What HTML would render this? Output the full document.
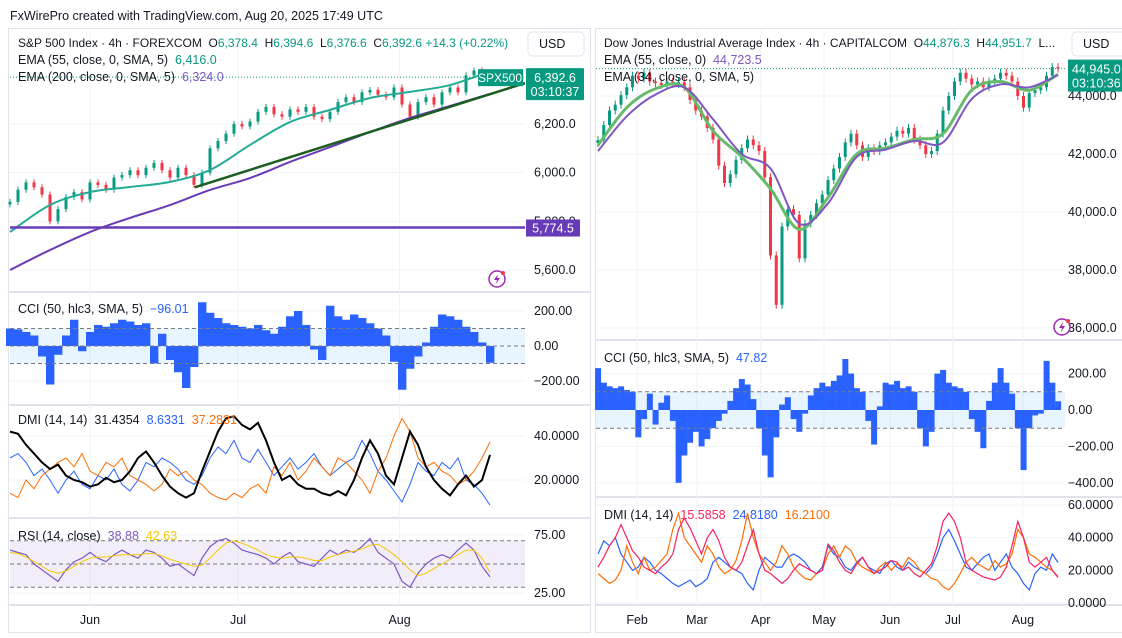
<!DOCTYPE html>
<html><head><meta charset="utf-8"><style>
body{margin:0;background:#fff;width:1122px;height:638px;overflow:hidden;font-family:"Liberation Sans",sans-serif}
svg{display:block}
text{font-family:"Liberation Sans",sans-serif;white-space:pre}
</style></head><body>
<svg id="c" width="1122" height="638" viewBox="0 0 1122 638"></svg>
<script>
// ---------- DATA: S&P 500 (left) ----------
const spxClose=[5880,5930,5960,5940,5910,5800,5850,5900,5920,5890,5960,5950,5930,5980,5990,6010,5990,6020,6040,6010,5980,6020,5990,5950,6000,6100,6130,6160,6200,6190,6210,6250,6270,6240,6230,6260,6250,6270,6230,6220,6250,6290,6310,6290,6330,6340,6320,6310,6350,6280,6230,6290,6310,6280,6330,6350,6330,6400,6420,6410,6392.6];
const spxEma55=[5756,5867,5920,5941,5962,6011,6114,6208,6258,6307,6332,6360,6416];
const spxEma200=[5600,5682,5756,5814,5867,5929,5978,6044,6105,6167,6225,6274,6324];
const spxPriceTicks=[6200,6000,5800,5600];
const spxPriceTickLabels=["6,200.0","6,000.0","5,800.0","5,600.0"];
const spxHLine=5774.5;
const spxCci=[100,95,80,60,-60,-220,-50,60,150,-30,80,120,110,130,150,140,120,130,-100,70,-80,-150,-240,-120,250,190,160,130,120,110,100,120,90,70,110,170,200,120,-20,-80,230,170,150,180,160,130,100,60,-90,-250,-130,-60,20,110,180,170,150,110,80,20,-96];
const spxCciTicks=[200,0,-200];
const spxCciTickLabels=["200.00","0.00","\u2212200.00"];
const spxAdx=[42,41,36,32,28,25,27,22,20,19,17,18,21,19,20,24,30,33,28,22,17,14,12,14,24,33,42,48,49,45,43,46,38,28,20,22,18,16,16,14,13,15,13,20,30,38,32,22,18,30,42,36,26,20,16,13,18,22,17,20,31.4];
const spxDiPlus=[30,32,28,22,25,20,14,20,24,18,16,22,20,25,18,15,20,28,26,30,28,25,20,18,22,30,35,32,38,30,28,34,28,22,26,30,25,28,32,26,22,25,28,30,38,32,24,20,15,10,18,28,24,22,28,25,30,20,18,14,8.6];
const spxDiMinus=[14,12,20,16,22,25,28,30,26,32,24,22,28,26,30,22,20,18,15,18,25,22,24,20,18,14,12,11,14,12,16,18,14,26,22,28,20,24,30,26,22,30,28,24,20,14,24,30,40,48,42,30,26,28,24,22,18,20,24,30,37.3];
const spxDmiTicks=[40,20];
const spxDmiTickLabels=["40.0000","20.0000"];
const spxRsi=[62,60,58,50,45,40,35,45,52,55,60,55,52,58,62,58,55,62,60,55,48,50,45,40,55,65,70,72,68,62,60,58,55,50,56,60,52,50,48,55,62,58,62,60,65,72,60,55,50,35,30,42,50,55,58,55,62,68,62,48,38.9];
const spxRsiMa=[60,59,56,52,48,44,42,44,48,52,55,56,56,57,58,58,58,59,59,57,54,52,50,48,49,55,62,68,70,68,65,62,58,56,55,56,56,55,53,53,56,58,60,61,63,66,67,63,58,52,45,40,42,46,50,54,58,62,62,55,42.6];
const spxRsiTicks=[75,25];
const spxRsiTickLabels=["75.00","25.00"];
const spxMonths=["Jun","Jul","Aug"];
const spxMonthIdx=[10,28.5,48.7];

// ---------- DATA: Dow Jones (right) ----------
const djiClose=[42480,43000,43500,43700,44030,44300,44700,44600,44800,44500,44450,44380,44500,44420,44480,44300,43860,43500,43300,42900,42500,41600,41000,41300,41800,42200,42500,42300,42100,41200,38500,36800,39500,40100,39900,38400,39600,39900,40300,40600,41100,41500,41900,42400,42700,42300,41900,42200,42100,42300,42400,42600,42800,42700,42900,42500,42300,42000,42100,42700,43500,44000,44500,44800,44600,44400,44500,44300,44500,44600,44800,44700,44500,44000,43600,44100,44200,44300,44700,45000,44945];
const djiEmaGreen=[42300,43600,44250,44300,42800,41900,40800,39400,40500,42000,42200,42500,42700,44200,44500,44200,44750];
const djiEmaPurple=[42100,43300,44050,44300,43200,42000,41500,39600,40300,41900,42150,42450,42400,43900,44400,44300,44723];
const djiPriceTicks=[44000,42000,40000,38000,36000];
const djiPriceTickLabels=["44,000.0","42,000.0","40,000.0","38,000.0","36,000.0"];
const djiCci=[230,150,130,120,130,110,100,-150,-50,90,-80,40,80,-60,-400,-250,-180,-120,-200,-160,-100,-60,-20,50,120,170,140,60,-100,-250,-370,-150,30,70,-50,-120,-20,80,120,150,130,160,190,280,200,120,100,-60,-190,20,150,140,160,120,130,100,-100,-200,-120,200,220,150,130,120,100,-50,-120,-210,50,150,230,150,90,-100,-330,-100,-30,-20,270,150,48];
const djiCciTicks=[200,0,-200,-400];
const djiCciTickLabels=["200.00","0.00","\u2212200.00","\u2212400.00"];
const djiAdx=[22,28,35,40,48,40,32,28,22,20,18,22,25,30,45,52,46,38,30,40,45,38,28,22,20,25,35,45,30,20,18,15,12,15,20,24,22,20,18,20,36,32,25,20,18,24,28,22,18,20,22,26,25,20,22,18,16,20,24,35,50,55,50,40,25,20,18,16,15,14,16,22,35,50,40,25,22,25,28,20,15.6];
const djiDiPlus=[30,38,35,40,30,25,20,22,28,25,20,18,15,12,10,12,14,10,12,15,25,28,25,22,20,18,12,8,20,28,25,22,22,28,30,28,25,20,18,22,35,30,28,22,20,25,28,22,20,18,24,26,22,20,25,22,20,18,22,30,40,45,38,30,22,20,24,28,30,20,25,30,22,18,12,8,18,22,20,30,24.8];
const djiDiMinus=[18,15,12,14,20,35,25,18,28,20,22,26,30,45,55,40,35,30,25,35,30,22,18,20,26,38,55,40,30,25,20,25,35,30,22,18,15,14,18,20,30,35,28,35,32,25,22,20,18,22,25,20,24,22,28,25,20,18,15,14,10,8,12,18,25,28,24,22,20,26,22,24,30,45,40,30,28,25,22,20,16.2];
const djiDmiTicks=[60,40,20,0];
const djiDmiTickLabels=["60.0000","40.0000","20.0000","0.0000"];
const djiMonths=["Feb","Mar","Apr","May","Jun","Jul","Aug"];
const djiMonthIdx=[6.8,17.2,28.3,39.3,50.8,61.7,73.9];

// ---------- SCALES ----------
const xL=i=>10+i*8;
const yP=v=>124+(6200-v)*0.2433;
const yCci=v=>346-v*0.175;
const yDmi=v=>480-(v-20)*2.2;
const yRsi=v=>593-(v-25)*1.16;
const xR=i=>598+i*5.75;
const yPR=v=>96+(44000-v)*0.029;
const yCciR=v=>410-v*0.182;
const yDmiR=v=>603-v*1.633;

const NS="http://www.w3.org/2000/svg";
const svg=document.getElementById('c');
function mk(tag,attrs,parent){const e=document.createElementNS(NS,tag);for(const k in attrs)e.setAttribute(k,attrs[k]);(parent||svg).appendChild(e);return e;}
function txt(x,y,s,fill,size,anchor){const t=mk('text',{x:x,y:y,fill:fill||'#131722','font-size':size||12,'text-anchor':anchor||'start'});t.textContent=s;return t;}
function poly(arr,xf,yf,step){return arr.map((v,i)=>xf(i*(step||1)).toFixed(1)+','+yf(v).toFixed(1)).join(' ');}
function smooth(arr,xf,yf,step){const p=arr.map((v,i)=>[xf(i*step),yf(v)]);let d='M'+p[0][0]+' '+p[0][1];
 for(let i=0;i<p.length-1;i++){const a=p[i-1]||p[i],b=p[i],c=p[i+1],e=p[i+2]||c;
  d+=` C${b[0]+(c[0]-a[0])/6} ${b[1]+(c[1]-a[1])/6} ${c[0]-(e[0]-b[0])/6} ${c[1]-(e[1]-b[1])/6} ${c[0]} ${c[1]}`;}return d;}

let h=txt(10,20,"FxWirePro created with TradingView.com, Aug 20, 2025 17:49 UTC",'#131722',12.5);



let pf=mk('rect',{x:8.5,y:28.5,width:582,height:604,fill:'none',stroke:'#e0e3eb'});


let pf2=mk('rect',{x:595.5,y:28.5,width:530,height:604,fill:'none',stroke:'#e0e3eb'});



[[9,292,590],[9,405,590],[9,518,590],[9,605,590],[596,340,1122],[596,497,1122],[596,605,1122]].forEach(s=>{
 let l=mk('line',{x1:s[0],y1:s[1],x2:s[2],y2:s[1],stroke:'#e0e3eb','stroke-width':2});
 
 
});

spxMonthIdx.forEach(m=>{let l=mk('line',{x1:xL(m),y1:30,x2:xL(m),y2:605,stroke:'#f0f3fa'});
 
 });
djiMonthIdx.forEach(m=>{let l=mk('line',{x1:xR(m),y1:30,x2:xR(m),y2:605,stroke:'#f0f3fa'});
 
 });

function ticks(vals,labels,yf,x0,x1,lx){vals.forEach((v,i)=>{
 let g=mk('line',{x1:x0,y1:yf(v),x2:x1,y2:yf(v),stroke:'#f0f3fa'});
 
 
 let t=txt(lx,yf(v)+4,labels[i],'#131722',12.5);
 
 });}

// ================= LEFT =================
ticks(spxPriceTicks,spxPriceTickLabels,yP,10,525,534);
spxClose.forEach((c,i)=>{const o=i?spxClose[i-1]:c-10;const up=c>=o;const col=up?'#089981':'#f23645';
 const top=yP(Math.max(o,c)),bot=yP(Math.min(o,c));
 let w=mk('line',{x1:xL(i),y1:top-3,x2:xL(i),y2:bot+3,stroke:col,'stroke-width':1});
 
 
 let b=mk('rect',{x:xL(i)-1.5,y:top,width:3,height:Math.max(1,bot-top),fill:col});
 
 });
let e1=mk('path',{d:smooth(spxEma55,xL,yP,5),fill:'none',stroke:'#22ab94','stroke-width':2});


let e2=mk('path',{d:smooth(spxEma200,xL,yP,5),fill:'none',stroke:'#673ab7','stroke-width':2});


let tl=mk('line',{x1:xL(23.1),y1:yP(5940),x2:525,y2:yP(6368),stroke:'#1b5e20','stroke-width':2.5});


let hl=mk('line',{x1:10,y1:yP(spxHLine),x2:525,y2:yP(spxHLine),stroke:'#673ab7','stroke-width':2.5});


let dl=mk('line',{x1:10,y1:yP(spxClose[60]),x2:525,y2:yP(spxClose[60]),stroke:'#089981','stroke-dasharray':'1,2'});


let sb=mk('rect',{x:478,y:yP(spxClose[60])-8,width:45,height:17,fill:'#089981'});


txt(500,yP(spxClose[60])+5,'SPX500','#fff',12,'middle');
let pb=mk('rect',{x:526,y:yP(spxClose[60])-9,width:58,height:32,fill:'#089981',rx:1});


txt(555,yP(spxClose[60])+5,'6,392.6','#fff',12.5,'middle');
txt(555,yP(spxClose[60])+19,'03:10:37','#fff',12.5,'middle');
let hb=mk('rect',{x:526,y:yP(spxHLine)-8,width:54,height:17,fill:'#673ab7'});


txt(553,yP(spxHLine)+5,'5,774.5','#fff',12.5,'middle');
let lg=mk('text',{x:18,y:47,'font-size':12,fill:'#131722'});
lg.innerHTML='S&amp;P 500 Index · 4h · FOREXCOM  O<tspan fill="#089981">6,378.4</tspan>  H<tspan fill="#089981">6,394.6</tspan>  L<tspan fill="#089981">6,376.6</tspan>  C<tspan fill="#089981">6,392.6</tspan> <tspan fill="#089981">+14.3 (+0.22%)</tspan>';


let lg2=mk('text',{x:18,y:64,'font-size':12.5,fill:'#131722'});
lg2.innerHTML='EMA (55, close, 0, SMA, 5)  <tspan fill="#089981">6,416.0</tspan>';


let lg3=mk('text',{x:18,y:81,'font-size':12.5,fill:'#131722'});
lg3.innerHTML='EMA (200, close, 0, SMA, 5)  <tspan fill="#7e57c2">6,324.0</tspan>';



// CCI left
let cb=mk('rect',{x:10,y:yCci(100),width:515,height:yCci(-100)-yCci(100),fill:'#2196f3','fill-opacity':0.1});


ticks(spxCciTicks,spxCciTickLabels,yCci,10,525,534);
spxCci.forEach((v,i)=>{const y0=yCci(0),y1=yCci(v);
 let r=mk('rect',{x:xL(i)-4,y:Math.min(y0,y1),width:8.4,height:Math.abs(y1-y0),fill:'#2962ff'});
 
 });
[100,0,-100].forEach(v=>{let l=mk('line',{x1:10,y1:yCci(v),x2:525,y2:yCci(v),stroke:'#787b86','stroke-dasharray':'4,3'});
 
 });
let cl=mk('text',{x:18,y:313,'font-size':12.5,fill:'#131722'});
cl.innerHTML='CCI (50, hlc3, SMA, 5)  <tspan fill="#2962ff">−96.01</tspan>';



// DMI left
ticks(spxDmiTicks,spxDmiTickLabels,yDmi,10,525,534);
[[spxDiPlus,'#2962ff',1,'spx-di-plus-line'],[spxDiMinus,'#ff6d00',1,'spx-di-minus-line'],[spxAdx,'#000',2,'spx-adx-line']].forEach(s=>{
 let p=mk('polyline',{points:poly(s[0],xL,yDmi),fill:'none',stroke:s[1],'stroke-width':s[2]});
 
 });
let dlg=mk('text',{x:18,y:424,'font-size':12.5,fill:'#131722'});
dlg.innerHTML='DMI (14, 14)  <tspan>31.4354</tspan>  <tspan fill="#2962ff">8.6331</tspan>  <tspan fill="#ff6d00">37.2831</tspan>';



// RSI left
let rb=mk('rect',{x:10,y:yRsi(70),width:515,height:yRsi(30)-yRsi(70),fill:'#7e57c2','fill-opacity':0.1});


ticks(spxRsiTicks,spxRsiTickLabels,yRsi,10,525,534);
[70,50,30].forEach(v=>{let l=mk('line',{x1:10,y1:yRsi(v),x2:525,y2:yRsi(v),stroke:'#787b86','stroke-dasharray':'4,3'});
 
 });
let rl=mk('polyline',{points:poly(spxRsi,xL,yRsi),fill:'none',stroke:'#7e57c2','stroke-width':1.2});


let rm=mk('polyline',{points:poly(spxRsiMa,xL,yRsi),fill:'none',stroke:'#f7c600','stroke-width':1});


let rlg=mk('text',{x:18,y:540,'font-size':12.5,fill:'#131722'});
rlg.innerHTML='RSI (14, close)  <tspan fill="#7e57c2">38.88</tspan>  <tspan fill="#f7c600">42.63</tspan>';



spxMonths.forEach((m,i)=>{let t=txt(xL(spxMonthIdx[i]),624,m,'#131722',12.5,'middle');
 
 });

// ================= RIGHT =================
ticks(djiPriceTicks,djiPriceTickLabels,yPR,596,1065,1068);
djiClose.forEach((c,i)=>{const o=i?djiClose[i-1]:c-100;const up=c>=o;const col=up?'#089981':'#f23645';
 const top=yPR(Math.max(o,c)),bot=yPR(Math.min(o,c));
 let w=mk('line',{x1:xR(i),y1:top-4,x2:xR(i),y2:bot+4,stroke:col,'stroke-width':1});
 
 
 let b=mk('rect',{x:xR(i)-1.5,y:top,width:3,height:Math.max(1,bot-top),fill:col});
 
 });
let g1=mk('path',{d:smooth(djiEmaGreen,xR,yPR,5),fill:'none',stroke:'#66bb6a','stroke-width':3});


let g2=mk('path',{d:smooth(djiEmaPurple,xR,yPR,5),fill:'none',stroke:'#7e57c2','stroke-width':2});


let dl2=mk('line',{x1:596,y1:yPR(djiClose[80]),x2:1065,y2:yPR(djiClose[80]),stroke:'#089981','stroke-dasharray':'1,2'});


let pb2=mk('rect',{x:1068,y:yPR(djiClose[80])-9,width:56,height:32,fill:'#089981'});


txt(1072,yPR(djiClose[80])+5,'44,945.0','#fff',12.5);
txt(1072,yPR(djiClose[80])+19,'03:10:36','#fff',12.5);
let rlg1=mk('text',{x:604,y:47,'font-size':12,fill:'#131722'});
rlg1.innerHTML='Dow Jones Industrial Average Index · 4h · CAPITALCOM  O<tspan fill="#089981">44,876.3</tspan>  H<tspan fill="#089981">44,951.7</tspan>  L...';


let rlg2=mk('text',{x:604,y:64,'font-size':12.5,fill:'#131722'});
rlg2.innerHTML='EMA (55, close, 0)  <tspan fill="#7e57c2">44,723.5</tspan>';


let rlg3=mk('text',{x:604,y:81,'font-size':12.5,fill:'#131722'});
rlg3.textContent='EMA (34, close, 0, SMA, 5)';



// CCI right
let cb2=mk('rect',{x:596,y:yCciR(100),width:469,height:yCciR(-100)-yCciR(100),fill:'#2196f3','fill-opacity':0.1});


ticks(djiCciTicks,djiCciTickLabels,yCciR,596,1065,1068);
djiCci.forEach((v,i)=>{const y0=yCciR(0),y1=yCciR(v);
 let r=mk('rect',{x:xR(i)-2.9,y:Math.min(y0,y1),width:6,height:Math.abs(y1-y0),fill:'#2962ff'});
 
 });
[100,-100].forEach(v=>{let l=mk('line',{x1:596,y1:yCciR(v),x2:1065,y2:yCciR(v),stroke:'#787b86','stroke-dasharray':'4,3'});
 
 });
let ccl=mk('text',{x:604,y:362,'font-size':12.5,fill:'#131722'});
ccl.innerHTML='CCI (50, hlc3, SMA, 5)  <tspan fill="#2962ff">47.82</tspan>';



// DMI right
ticks(djiDmiTicks,djiDmiTickLabels,yDmiR,596,1065,1068);
[[djiDiPlus,'#2962ff','dji-di-plus-line'],[djiDiMinus,'#ff6d00','dji-di-minus-line'],[djiAdx,'#f7225e','dji-adx-line']].forEach(s=>{
 let p=mk('polyline',{points:poly(s[0],xR,yDmiR),fill:'none',stroke:s[1],'stroke-width':1.2});
 
 });
let ddl=mk('text',{x:604,y:519,'font-size':12.5,fill:'#131722'});
ddl.innerHTML='DMI (14, 14)  <tspan fill="#f7225e">15.5858</tspan>  <tspan fill="#2962ff">24.8180</tspan>  <tspan fill="#ff6d00">16.2100</tspan>';



djiMonths.forEach((m,i)=>{let t=txt(xR(djiMonthIdx[i]),624,m,'#131722',12.5,'middle');
 
 });

[[528,'spx-currency-button'],[1072,'dji-currency-button']].forEach(b=>{
 let r=mk('rect',{x:b[0],y:32,width:56,height:24,rx:4,fill:'#fff',stroke:'#e0e3eb'});
 
 
 txt(b[0]+11,48,'USD','#131722',12.5);});
[[497,279],[1062,327]].forEach(p=>{
 let c=mk('circle',{cx:p[0],cy:p[1],r:8,fill:'none',stroke:'#9c27b0','stroke-width':1.5});
 
 
 let z=mk('path',{d:`M${p[0]+1} ${p[1]-5} L${p[0]-3} ${p[1]+1} L${p[0]} ${p[1]+1} L${p[0]-1} ${p[1]+5} L${p[0]+3} ${p[1]-1} L${p[0]} ${p[1]-1} Z`,fill:'#9c27b0'});
 
 
 let d=mk('circle',{cx:p[0]+6,cy:p[1]-6,r:2,fill:'#f23645'});
 
 });
</script>
</body></html>
